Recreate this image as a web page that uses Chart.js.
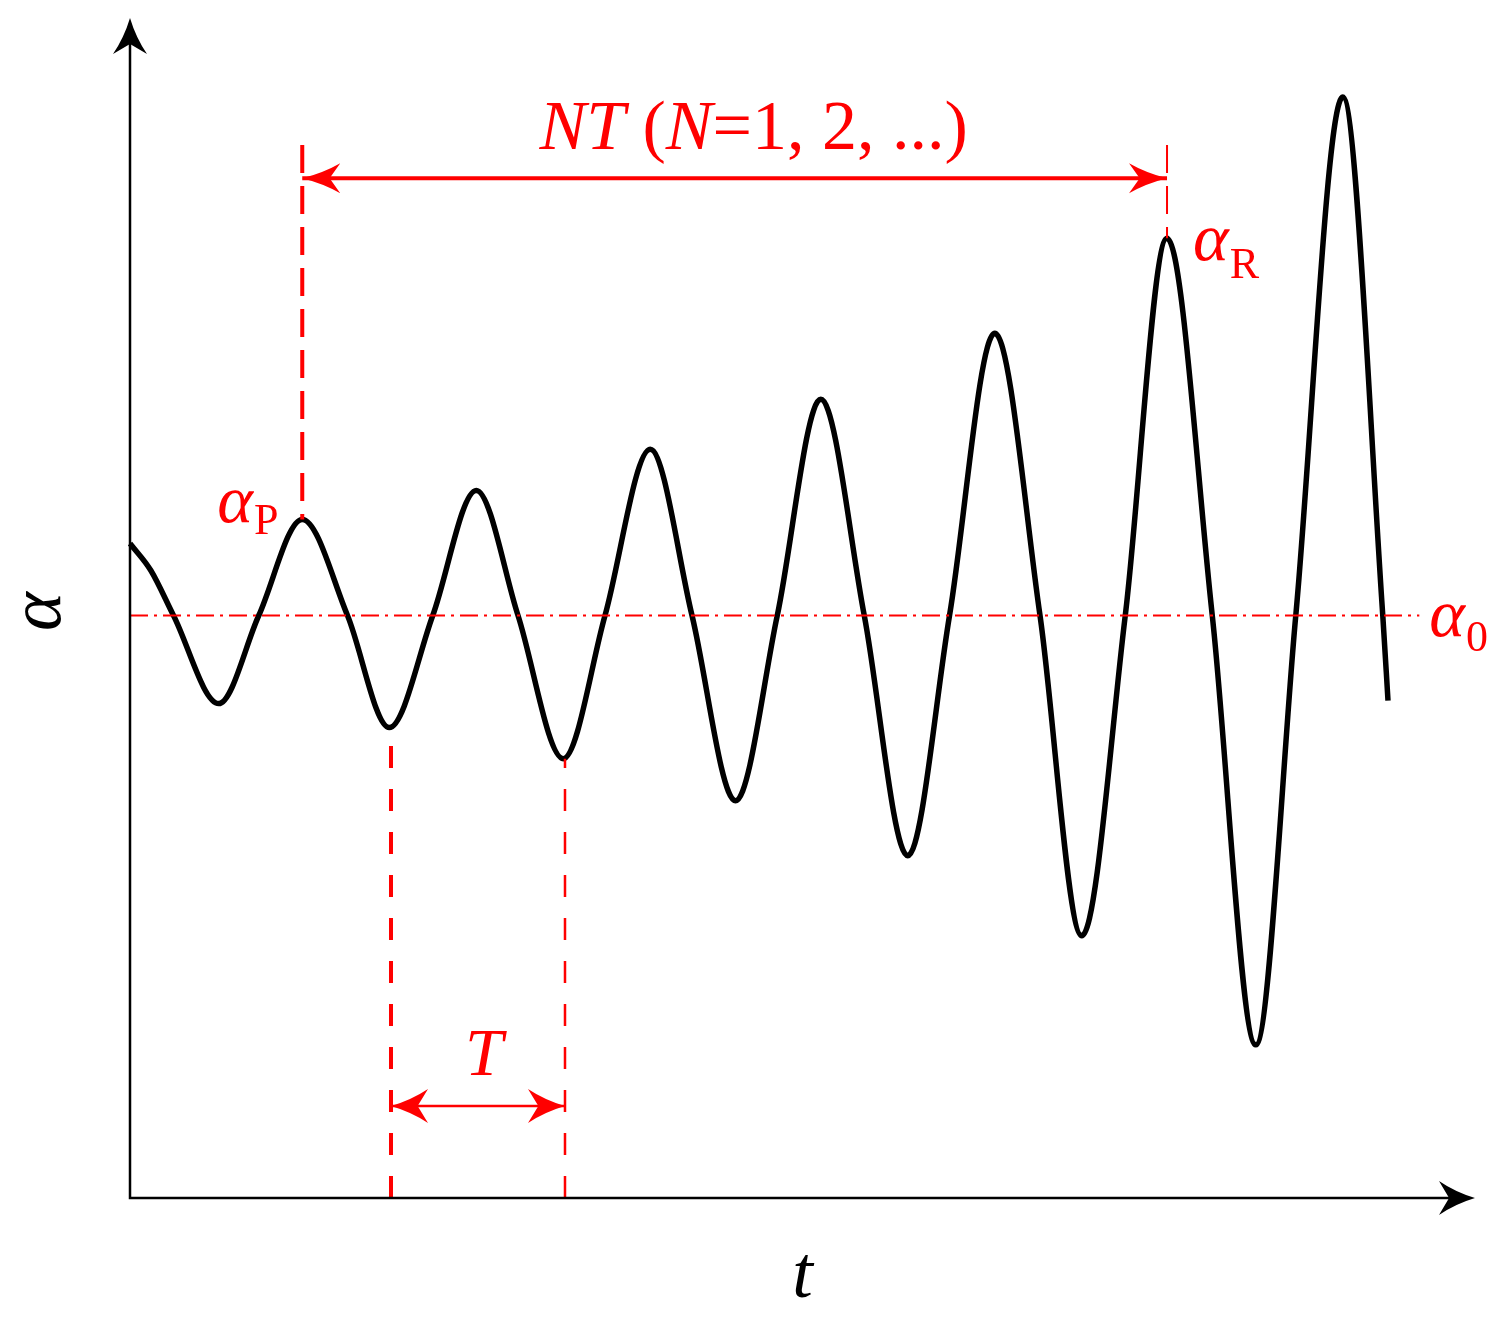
<!DOCTYPE html>
<html>
<head>
<meta charset="utf-8">
<script src="https://cdn.jsdelivr.net/npm/chart.js@4.4.0/dist/chart.umd.min.js"></script>
<style>
  html, body { margin: 0; padding: 0; background: #fff; }
  canvas { display: block; }
</style>
</head>
<body>
<canvas id="myChart" width="1501" height="1319"></canvas>
<script>
// tiempo en unidades del periodo T, alfa relativo a alfa0
const tiempo = [0, 0.12, 0.25, 0.51, 0.74, 0.99, 1.25, 1.49, 1.74, 1.99, 2.23, 2.49, 2.73, 2.99, 3.23,
  3.48, 3.72, 3.97, 4.22, 4.47, 4.71, 4.97, 5.23, 5.47, 5.72, 5.96, 6.22, 6.47, 6.70, 6.97, 7.20, 7.23];
const alfa = [0.72, 0.45, 0, -0.88, 0, 0.96, 0, -1.12, 0, 1.25, 0, -1.43, 0, 1.66, 0,
  -1.85, 0, 2.16, 0, -2.40, 0, 2.82, 0, -3.20, 0, 3.77, 0, -4.29, 0, 5.18, 0, -0.85];

// limites de los ejes
const tMin = 0, tMax = 7.73;
const alfaMin = -5.82, alfaMax = 5.97;

// linea alfa0
const alfa0 = 0;
const tramoAlfa0 = [0, 7.41];

// puntos marcados
const tP = 0.99, alfaP = 0.96;
const tR = 5.96, alfaR = 3.77;
const tValle1 = 1.50, alfaValle1 = -1.12;
const tValle2 = 2.50, alfaValle2 = -1.43;
const alfaTope = 4.70;      // donde empiezan las guias de NT
const alfaFlechaNT = 4.37;
const alfaFlechaT = -4.90;

const ROJO = "#ff0000";
const SERIF = "'Liberation Serif', 'Times New Roman', Times, serif";

const puntos = (xs, ys) => xs.map((x, i) => ({ x: x, y: ys[i] }));

const lineaRoja = (data, ancho, dash) => ({
  data: data,
  borderColor: ROJO,
  borderWidth: ancho,
  borderDash: dash,
  pointRadius: 0,
  showLine: true,
  fill: false,
  clip: false,
  order: 1
});

// texto con partes en cursiva
function textoMixto(ctx, partes, x, y, size, align) {
  let total = 0;
  const anchos = partes.map(p => {
    ctx.font = `${p.it ? "italic " : ""}${size}px ${SERIF}`;
    const w = ctx.measureText(p.s).width;
    total += w;
    return w;
  });
  let cx = align === "center" ? x - total / 2 : x;
  ctx.textAlign = "left";
  partes.forEach((p, i) => {
    ctx.font = `${p.it ? "italic " : ""}${size}px ${SERIF}`;
    ctx.fillText(p.s, cx, y);
    cx += anchos[i];
  });
}

function punta(ctx, x, y, ang, largo, medio, color) {
  ctx.save();
  ctx.translate(x, y);
  ctx.rotate(ang);
  ctx.fillStyle = color;
  ctx.beginPath();
  ctx.moveTo(0, 0);
  ctx.quadraticCurveTo(-largo * 0.55, -medio * 0.35, -largo, -medio);
  ctx.lineTo(-largo * 0.72, 0);
  ctx.lineTo(-largo, medio);
  ctx.quadraticCurveTo(-largo * 0.55, medio * 0.35, 0, 0);
  ctx.closePath();
  ctx.fill();
  ctx.restore();
}

// un texto alfa con subindice
function alfaSub(ctx, sub, x, y, dySub, color) {
  ctx.fillStyle = color;
  ctx.textBaseline = "alphabetic";
  ctx.textAlign = "left";
  ctx.font = `italic 68px ${SERIF}`;
  ctx.fillText("\u03b1", x, y);
  const w = ctx.measureText("\u03b1").width;
  ctx.font = `44px ${SERIF}`;
  ctx.fillText(sub, x + w + 1, y + dySub);
}

const anotaciones = {
  id: "anotaciones",
  afterDatasetsDraw(chart) {
    const { ctx, chartArea, scales } = chart;
    const px = v => scales.x.getPixelForValue(v);
    const py = v => scales.y.getPixelForValue(v);
    ctx.save();

    // ejes con flechas
    ctx.strokeStyle = "#000";
    ctx.lineWidth = 2.5;
    ctx.beginPath();
    ctx.moveTo(chartArea.left, chartArea.top + 20);
    ctx.lineTo(chartArea.left, chartArea.bottom);
    ctx.lineTo(chartArea.right - 20, chartArea.bottom);
    ctx.stroke();
    punta(ctx, chartArea.left, chartArea.top, -Math.PI / 2, 36, 17, "#000");
    punta(ctx, chartArea.right, chartArea.bottom, 0, 36, 17, "#000");

    // flechas rojas
    punta(ctx, px(tP), py(alfaFlechaNT), Math.PI, 38, 15, ROJO);
    punta(ctx, px(tR), py(alfaFlechaNT), 0, 38, 15, ROJO);
    punta(ctx, px(tValle1), py(alfaFlechaT), Math.PI, 37, 17, ROJO);
    punta(ctx, px(tValle2), py(alfaFlechaT), 0, 37, 17, ROJO);

    // textos rojos
    ctx.fillStyle = ROJO;
    ctx.textBaseline = "alphabetic";
    textoMixto(ctx, [
      { s: "NT", it: true }, { s: " (", it: false }, { s: "N", it: true }, { s: "=1, 2, ...)", it: false }
    ], (px(tP) + px(tR)) / 2 + 19, 149, 70, "center");
    textoMixto(ctx, [{ s: "T", it: true }], (px(tValle1) + px(tValle2)) / 2 + 6, 1075, 68, "center");

    alfaSub(ctx, "P", px(tP) - 85, py(alfaP) + 3, 12, ROJO);
    alfaSub(ctx, "R", px(tR) + 26, py(alfaR) + 22, 18, ROJO);
    alfaSub(ctx, "0", px(tramoAlfa0[1]) + 10, py(alfa0) + 20, 15, ROJO);

    // titulos de los ejes
    ctx.fillStyle = "#000";
    ctx.font = `italic 74px ${SERIF}`;
    ctx.textAlign = "center";
    ctx.fillText("t", (chartArea.left + chartArea.right) / 2 + 0, 1297);
    ctx.save();
    ctx.translate(60, py(alfa0) - 4);
    ctx.rotate(-Math.PI / 2);
    ctx.fillText("\u03b1", 0, 0);
    ctx.restore();

    ctx.restore();
  }
};

const config = {
  type: "scatter",
  data: {
    datasets: [
      lineaRoja(puntos(tramoAlfa0, [alfa0, alfa0]), 2, [18, 6, 3, 6]),
      lineaRoja(puntos([tP, tP], [alfaTope, alfaP]), 4, [28, 13]),
      lineaRoja(puntos([tR, tR], [alfaTope, alfaR]), 2, [28, 13]),
      lineaRoja(puntos([tValle1, tValle1], [alfaMin, alfaValle1]), 4, [22, 21]),
      lineaRoja(puntos([tValle2, tValle2], [alfaMin, alfaValle2]), 2.5, [22, 21]),
      lineaRoja(puntos([tP, tR], [alfaFlechaNT, alfaFlechaNT]), 4, []),
      lineaRoja(puntos([tValle1, tValle2], [alfaFlechaT, alfaFlechaT]), 2.5, []),
      {
        data: puntos(tiempo, alfa),
        borderColor: "#000",
        borderWidth: 5.5,
        pointRadius: 0,
        showLine: true,
        fill: false,
        clip: false,
        cubicInterpolationMode: "monotone",
        order: 10
      }
    ]
  },
  options: {
    responsive: false,
    animation: false,
    layout: { padding: { left: 130, right: 26, top: 18, bottom: 121 } },
    plugins: { legend: { display: false }, tooltip: { enabled: false } },
    scales: {
      x: { type: "linear", min: tMin, max: tMax, display: false },
      y: { type: "linear", min: alfaMin, max: alfaMax, display: false }
    }
  },
  plugins: [anotaciones]
};

new Chart(document.getElementById("myChart"), config);
</script>
</body>
</html>
